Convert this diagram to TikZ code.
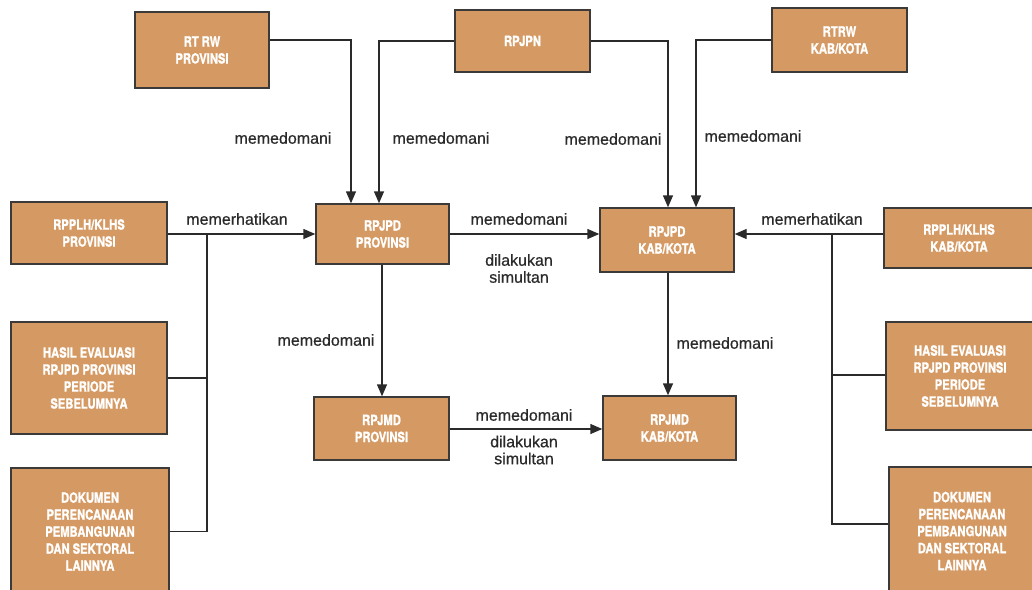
\documentclass[tikz,border=0pt]{standalone}
\usepackage{fontspec}
\setmainfont{Liberation Sans}
\newfontfamily\labfont[FakeBold=0.6]{Liberation Sans}
\newfontfamily\boxfont[FakeStretch=0.8,FakeBold=1.2]{TeX Gyre Heros}
\usetikzlibrary{arrows.meta,calc}
\definecolor{boxfill}{HTML}{D59A63}
\definecolor{boxline}{HTML}{3C3A38}
\definecolor{lbl}{HTML}{2A2A2A}
\tikzset{
  doc/.style={draw=boxline, line width=1.4pt, fill=boxfill, inner sep=0pt,
    text=white, align=center, font=\boxfont\bfseries\fontsize{14}{17}\selectfont},
  conn/.style={draw=lbl, line width=1.4pt},
  arr/.style={conn, -{Triangle[length=12pt,width=10pt]}},
  lab/.style={text=lbl, font=\labfont\fontsize{16}{17}\selectfont, inner sep=0pt, align=center}
}
\begin{document}
\begin{tikzpicture}[x=1pt,y=-1pt]
\useasboundingbox (0,0) rectangle (1032,589);
\clip (0,0) rectangle (1032,589);
% boxes
\node[doc, minimum width=134, minimum height=76] (rtrwP) at (202,50) {RT RW\\PROVINSI};
\node[doc, minimum width=135, minimum height=62] (rpjpn) at (522.5,41) {RPJPN};
\node[doc, minimum width=135, minimum height=64] (rtrwK) at (839.5,40) {RTRW\\KAB/KOTA};
\node[doc, minimum width=156, minimum height=62] (rpplhP) at (89,233) {RPPLH/KLHS\\PROVINSI};
\node[doc, minimum width=133, minimum height=60] (rpjpdP) at (382.5,234) {RPJPD\\PROVINSI};
\node[doc, minimum width=134, minimum height=64] (rpjpdK) at (667,240) {RPJPD\\KAB/KOTA};
\node[doc, minimum width=150, minimum height=60] (rpplhK) at (959,238) {RPPLH/KLHS\\KAB/KOTA};
\node[doc, minimum width=156, minimum height=112] (hasilP) at (89,378) {HASIL EVALUASI\\RPJPD PROVINSI\\PERIODE\\SEBELUMNYA};
\node[doc, minimum width=158, minimum height=127] (dokP) at (90,531.5) {DOKUMEN\\PERENCANAAN\\PEMBANGUNAN\\DAN SEKTORAL\\LAINNYA};
\node[doc, minimum width=135, minimum height=63] (rpjmdP) at (381.5,428.5) {RPJMD\\PROVINSI};
\node[doc, minimum width=133, minimum height=64] (rpjmdK) at (669.5,428) {RPJMD\\KAB/KOTA};
\node[doc, minimum width=148, minimum height=108] (hasilK) at (960,376) {HASIL EVALUASI\\RPJPD PROVINSI\\PERIODE\\SEBELUMNYA};
\node[doc, minimum width=146, minimum height=128] (dokK) at (962,531) {DOKUMEN\\PERENCANAAN\\PEMBANGUNAN\\DAN SEKTORAL\\LAINNYA};
% junction coordinates
\coordinate (jl) at (207,234);
\coordinate (jr) at (832,234);
% top arrows
\draw[arr] (rtrwP.east |- 0,40) -| (rpjpdP.north -| 351,0);
\draw[arr] (rpjpn.west) -| (rpjpdP.north -| 379,0);
\draw[arr] (rpjpn.east) -| (rpjpdK.north -| 668,0);
\draw[arr] (rtrwK.west) -| (rpjpdK.north -| 696,0);
% left side
\draw[arr] (rpplhP.east |- rpjpdP) -- (rpjpdP.west);
\draw[conn] (jl) |- (hasilP.east);
\draw[conn] (jl) |- (dokP.east);
% right side
\draw[arr] (rpplhK.west |- jr) -- (rpjpdK.east |- jr);
\draw[conn] (jr) |- (hasilK.west |- 0,375);
\draw[conn] (jr) |- (dokK.west |- 0,524);
% middle
\draw[arr] (rpjpdP.east) -- (rpjpdK.west |- rpjpdP);
\draw[arr] (rpjpdP.south -| 382,0) -- (rpjmdP.north -| 382,0);
\draw[arr] (rpjpdK.south -| 668,0) -- (rpjmdK.north -| 668,0);
\draw[arr] (rpjmdP.east |- 0,429) -- (rpjmdK.west |- 0,429);
% labels
\node[lab] (l1) at (283,138) {memedomani};
\node[lab] (l2) at (441,138) {memedomani};
\node[lab] (l3) at (613,139) {memedomani};
\node[lab] (l4) at (753,136) {memedomani};
\node[lab] (l5) at (237,219) {memerhatikan};
\node[lab] (l6) at (519,219) {memedomani};
\node[lab] (l7) at (519,268.5) {dilakukan\\simultan};
\node[lab] (l8) at (812,219) {memerhatikan};
\node[lab] (l9) at (326,340) {memedomani};
\node[lab] (l10) at (725,343) {memedomani};
\node[lab] (l11) at (524,415) {memedomani};
\node[lab] (l12) at (524,450) {dilakukan\\simultan};
\end{tikzpicture}
\end{document}
